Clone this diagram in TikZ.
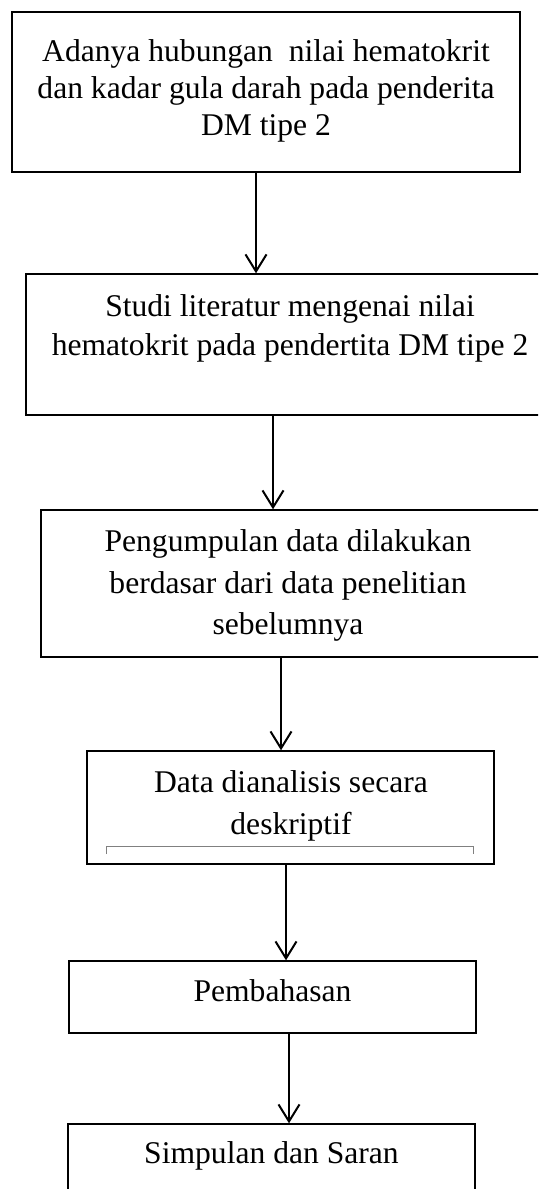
\documentclass[tikz,border=0pt]{standalone}
\usepackage{fontspec}
\setmainfont{Liberation Serif}
\usetikzlibrary{arrows.meta,calc}

\begin{document}
\begin{tikzpicture}[x=0.5pt,y=-0.5pt,>={Straight Barb[length=8.5pt,width=10.5pt]},
 kotak/.style={draw,line width=0.7pt,inner sep=0pt},
 isi/.style={align=center,inner sep=0pt},
 panah/.style={->,line width=1pt}]
\clip (0,0) rectangle (538,1189);
% kotak-kotak alur
\node[kotak,minimum width=254pt,minimum height=80pt] (b1) at (266,92) {};
\node[kotak,minimum width=264pt,minimum height=70.5pt] (b2) at (290,344.5) {};
\node[kotak,minimum width=252pt,minimum height=73.5pt] (b3) at (293,583.5) {};
\node[kotak,minimum width=203.5pt,minimum height=56.5pt] (b4) at (290.5,807.5) {};
\node[kotak,minimum width=203.5pt,minimum height=36pt] (b5) at (272.5,997) {};
\node[kotak,minimum width=203.5pt,minimum height=53pt] (b6) at (271.5,1177) {};
% teks
\node[isi,font=\fontsize{15.8}{18.5}\selectfont] (t1) at (266,91)
 {Adanya hubungan \ nilai hematokrit\\dan kadar gula darah pada penderita\\DM tipe 2};
\node[isi,font=\fontsize{15.8}{19.5}\selectfont] (t2) at (290,328)
 {Studi literatur mengenai nilai\\hematokrit pada pendertita DM tipe 2};
\node[isi,font=\fontsize{15.8}{20.75}\selectfont] (t3) at (288,585.5)
 {Pengumpulan data dilakukan\\berdasar dari data penelitian\\sebelumnya};
\node[isi,font=\fontsize{15.8}{21}\selectfont] (t4) at (291,805.5)
 {Data dianalisis secara\\deskriptif};
\node[isi,font=\fontsize{15.8}{18}\selectfont] (t5) at (272.5,990.5) {Pembahasan};
\node[isi,font=\fontsize{15.8}{18}\selectfont] (t6) at (271.5,1156) {Simpulan dan Saran};
% garis sisa di kotak 4
\draw[gray,line width=0.5pt] (106,854) -- (106,846) -- (473,846) -- (473,854);
% panah
\draw[panah] ([xshift=-5pt]b1.south) -- ([xshift=-5pt]b1.south |- b2.north);
\draw[panah] ([xshift=-8.5pt]b2.south) -- ([xshift=-8.5pt]b2.south |- b3.north);
\draw[panah] ([xshift=-6pt]b3.south) -- ([xshift=-6pt]b3.south |- b4.north);
\draw[panah] ([xshift=-2.25pt]b4.south) -- ([xshift=-2.25pt]b4.south |- b5.north);
\draw[panah] ([xshift=8.25pt]b5.south) -- ([xshift=8.25pt]b5.south |- b6.north);
\end{tikzpicture}
\end{document}
